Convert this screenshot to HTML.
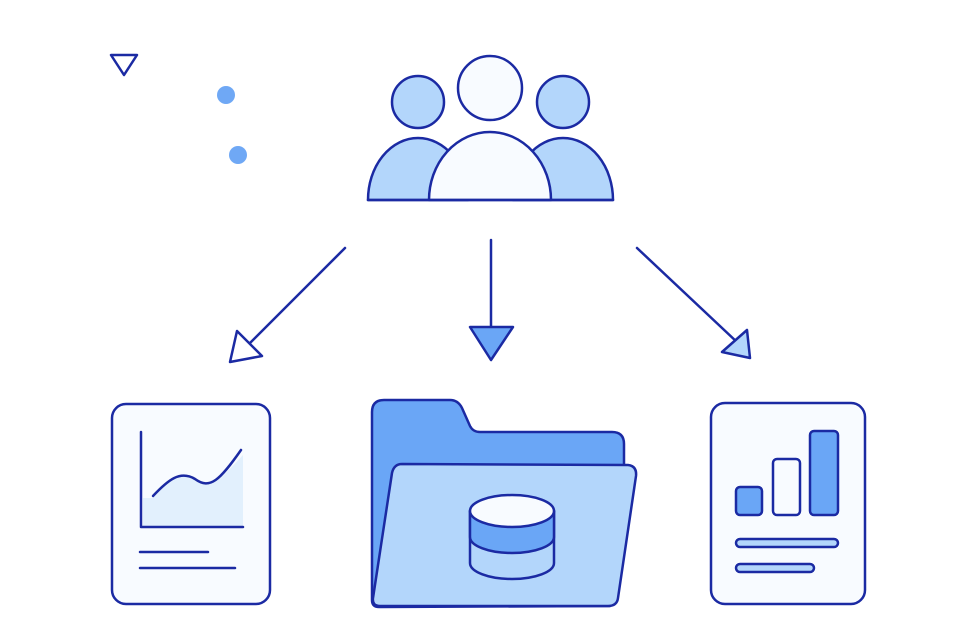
<!DOCTYPE html>
<html><head><meta charset="utf-8"><style>html,body{margin:0;padding:0;background:#fff}svg{display:block}</style></head>
<body>
<svg width="976" height="640" viewBox="0 0 976 640" xmlns="http://www.w3.org/2000/svg">
<g stroke="#1b2aa3" stroke-width="2.5" stroke-linejoin="round" stroke-linecap="round">
<polygon points="111,55 137,55 124,75" fill="#fff"/>
<circle cx="226" cy="95" r="9" fill="#6fa8f5" stroke="none"/>
<circle cx="238" cy="155" r="9" fill="#6fa8f5" stroke="none"/>
<path d="M368,200 A50,62 0 0 1 468,200 Z" fill="#b3d6fb"/>
<path d="M513,200 A50,62 0 0 1 613,200 Z" fill="#b3d6fb"/>
<circle cx="418" cy="102" r="26" fill="#b3d6fb"/>
<circle cx="563" cy="102" r="26" fill="#b3d6fb"/>
<circle cx="490" cy="88" r="32" fill="#f8fbff"/>
<path d="M429,200 A61,68 0 0 1 551,200 Z" fill="#f8fbff"/>
<line x1="368" y1="200" x2="613" y2="200"/>
<line x1="345" y1="248" x2="247" y2="346"/>
<polygon points="237,331 262,356 230,362" fill="#fff"/>
<line x1="491" y1="240" x2="491" y2="327"/>
<polygon points="470,327 513,327 491,360" fill="#6aa6f6"/>
<line x1="637" y1="248" x2="738" y2="343"/>
<polygon points="722,352 747,330 750,358" fill="#b3d6fb"/>
<rect x="112" y="404" width="158" height="200" rx="14" fill="#f8fbff"/>
<path d="M143,498 L153,498 C170,480 180,470 195,478 C210,490 220,480 243,455 L243,526 L143,526 Z" fill="#e2f0fd" stroke="none"/>
<polyline points="141,432 141,527 243,527" fill="none"/>
<path d="M153,496 C168,480 180,470 195,479 C210,490 220,480 241,450" fill="none"/>
<line x1="140" y1="552" x2="208" y2="552"/>
<line x1="140" y1="568" x2="235" y2="568"/>
<path d="M384,400 L450,400 Q458,400 462,408 L470,426 Q473,432 480,432 L612,432 Q624,432 624,444 L624,470 L610,606 L379,607 Q372,607 372,600 L372,412 Q372,400 384,400 Z" fill="#6aa6f6"/>
<path d="M402,464 L628,465 Q637,466 636,476 L618,598 Q617,606 608,606 L380,606 Q372,606 373,598 L392,473 Q394,464 402,464 Z" fill="#b3d6fb"/>
<path d="M470,511 L470,563 A42,16 0 0 0 554,563 L554,511 Z" fill="#b3d6fb"/>
<path d="M470,511 L470,537 A42,16 0 0 0 554,537 L554,511 Z" fill="#6aa6f6"/>
<ellipse cx="512" cy="511" rx="42" ry="16" fill="#f8fbff"/>
<rect x="711" y="403" width="154" height="201" rx="14" fill="#f8fbff"/>
<rect x="736" y="487" width="26" height="28" rx="4" fill="#6aa6f6"/>
<rect x="773" y="459" width="27" height="56" rx="4" fill="#f8fbff"/>
<rect x="810" y="431" width="28" height="84" rx="4" fill="#6aa6f6"/>
<rect x="736" y="539" width="102" height="8" rx="4" fill="#b3d6fb"/>
<rect x="736" y="564" width="78" height="8" rx="4" fill="#b3d6fb"/>
</g>
</svg>
</body></html>
